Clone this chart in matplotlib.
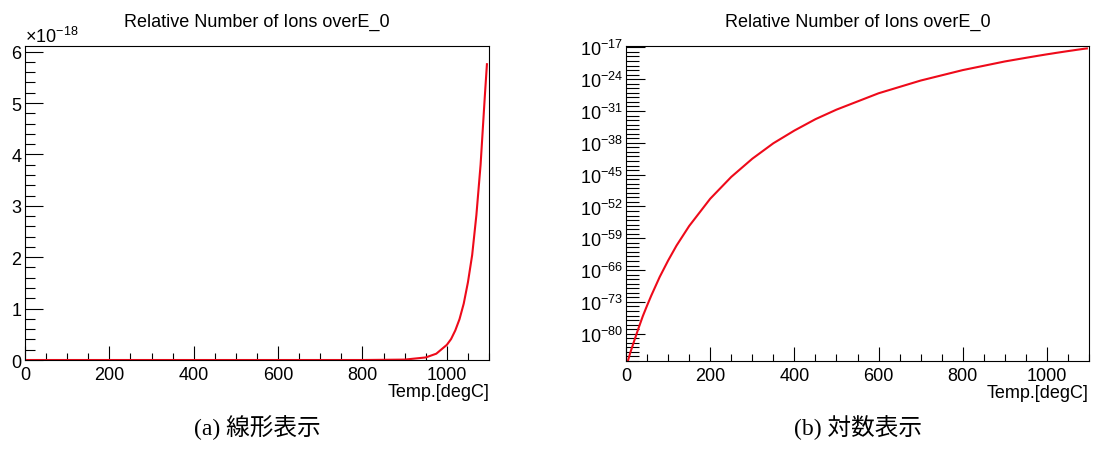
import numpy as np
import matplotlib
matplotlib.use("Agg")
import matplotlib.pyplot as plt
from matplotlib.ticker import (FixedLocator, MultipleLocator, NullFormatter,
                               LogFormatterMathtext)

plt.rcParams["font.family"] = ["Liberation Sans", "DejaVu Sans"]
plt.rcParams["mathtext.fontset"] = "custom"
plt.rcParams["mathtext.rm"] = "Liberation Sans"
plt.rcParams["mathtext.it"] = "Liberation Sans:italic"

# values (temperature in degC, log10 of relative number)
temp_degc = [5, 10, 20, 30, 40, 50, 60, 80, 100, 120, 150, 200, 250, 300, 350,
             400, 450, 500, 600, 700, 800, 900, 950, 975, 1000, 1010, 1020,
             1030, 1040, 1050, 1060, 1070, 1080, 1090, 1095]
log10_ions = [-85.8, -84.2, -81.4, -78.7, -76.1, -73.8, -71.6, -67.5, -63.9,
              -60.6, -56.3, -50.3, -45.5, -41.5, -38.1, -35.3, -32.8, -30.7,
              -27.1, -24.3, -22.0, -20.1, -19.30, -18.91, -18.53, -18.39,
              -18.24, -18.10, -17.96, -17.82, -17.69, -17.55, -17.42, -17.29,
              -17.24]
ions = [10.0 ** v for v in log10_ions]

title = "Relative Number of Ions overE_0"
xlabel = "Temp.[degC]"
captions = ["(a) 線形表示", "(b) 対数表示"]

fig = plt.figure(figsize=(10.96, 4.52), dpi=100)
ax_lin = fig.add_axes([0.0228, 0.2013, 0.4234, 0.6937])
ax_log = fig.add_axes([0.5712, 0.1991, 0.4224, 0.6959])

for ax in (ax_lin, ax_log):
    ax.plot(temp_degc, ions, color="#ee0a1a", linewidth=1.5)
    ax.set_xlim(0, 1100)
    ax.xaxis.set_major_locator(MultipleLocator(200))
    ax.xaxis.set_minor_locator(MultipleLocator(50))
    ax.tick_params(which="both", direction="in", top=False, right=False,
                   labelsize=13, width=0.8)
    ax.tick_params(axis="x", which="major", length=10, pad=4)
    ax.tick_params(axis="x", which="minor", length=5)
    for s in ax.spines.values():
        s.set_linewidth(0.8)
    ax.set_title(title, fontsize=13, pad=15)
    ax.set_xlabel(xlabel, fontsize=13, loc="right", labelpad=0)

# linear panel
ax_lin.set_ylim(0, 6.1e-18)
ax_lin.yaxis.set_major_locator(MultipleLocator(1e-18))
ax_lin.yaxis.set_minor_locator(MultipleLocator(0.2e-18))
ax_lin.ticklabel_format(axis="y", style="sci", scilimits=(0, 0), useMathText=True)
ax_lin.yaxis.get_offset_text().set_fontsize(13)
ax_lin.yaxis.get_offset_text().set_x(0.0)
ax_lin.tick_params(axis="y", which="major", length=13, pad=2)
ax_lin.tick_params(axis="y", which="minor", length=7)

# log panel
ax_log.set_yscale("log")
ax_log.set_ylim(10.0 ** -86, 10.0 ** -16.8)
ax_log.yaxis.set_major_locator(FixedLocator(10.0 ** np.arange(-80, -16, 7)))
ax_log.yaxis.set_minor_locator(FixedLocator(10.0 ** np.arange(-86, -16, 1)))
ax_log.yaxis.set_major_formatter(LogFormatterMathtext())
ax_log.yaxis.set_minor_formatter(NullFormatter())
ax_log.tick_params(axis="y", which="major", length=14, pad=2)
ax_log.tick_params(axis="y", which="minor", length=9)

for ax, cap in zip((ax_lin, ax_log), captions):
    pos = ax.get_position()
    fig.text((pos.x0 + pos.x1) / 2, 0.053, cap, ha="center", va="center",
             fontsize=17, family=["Liberation Serif", "Noto Sans CJK JP"])

fig.savefig("out.png", dpi=100)
